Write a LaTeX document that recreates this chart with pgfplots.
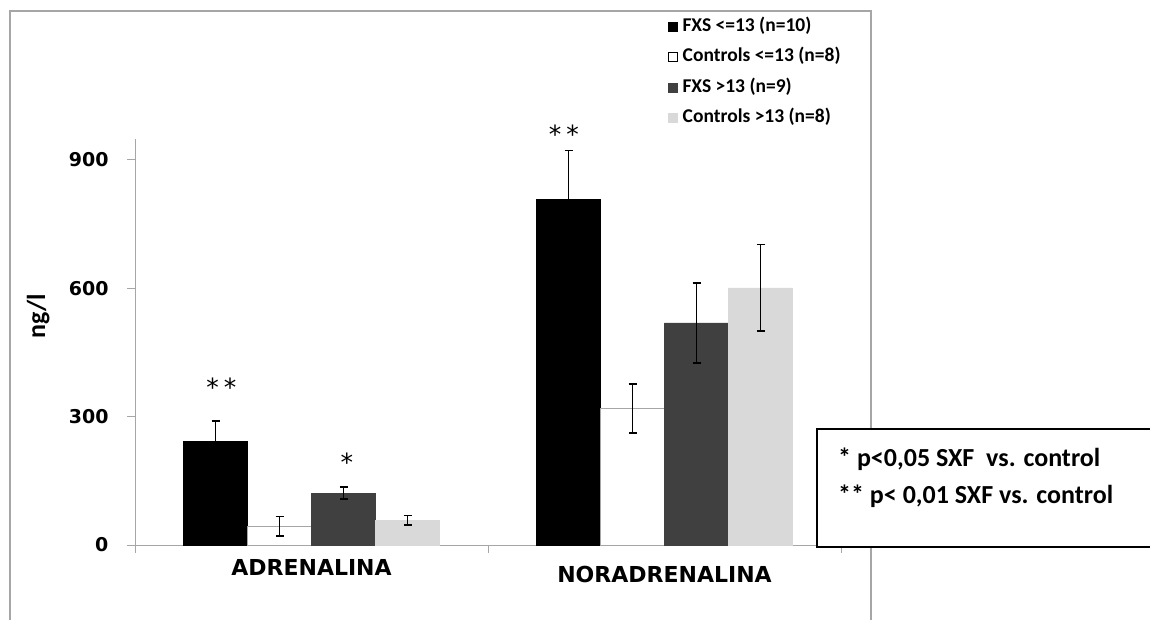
\documentclass[border=0pt]{standalone}
\usepackage{pgfplots}
\pgfplotsset{compat=1.18}
\usepackage{fontspec}
\setmainfont{Carlito}
\newfontfamily\dv{DejaVu Sans}
\newfontfamily\cb{Carlito}
\definecolor{dgray}{HTML}{404040}
\definecolor{lgray}{HTML}{D9D9D9}
\definecolor{axgray}{HTML}{A6A6A6}
\pgfplotsset{myerr/.style={error bars/.cd, y dir=both, y explicit,
     error bar style={line width=1.6pt, black},
     error mark options={rotate=90, mark size=4pt, line width=1.6pt, black}, /pgfplots/.cd}}
\begin{document}
\begin{tikzpicture}
\useasboundingbox (0pt,0pt) rectangle (1150pt,619pt);
% outer chart frame
\draw[axgray, line width=1.2pt] (10pt,-5pt) -- (10pt,608pt) -- (871pt,608pt) -- (871pt,-5pt);
\begin{axis}[
  at={(135pt,74pt)}, anchor=south west,
  width=706pt, height=406.4pt, scale only axis,
  xmin=0, xmax=2, ymin=0, ymax=950,
  clip=false,
  axis lines*=left,
  axis line style={axgray, line width=1pt},
  tick align=outside,
  major tick length=8pt,
  tick style={axgray, line width=1pt},
  ytick={0,300,600,900},
  /pgf/number format/assume math mode=true,
  yticklabel style={font=\dv\bfseries\fontsize{19}{20}\selectfont, black, xshift=-15pt},
  xtick={0,1,2}, xticklabels={},
  extra x ticks={0.5,1.5},
  extra x tick labels={ADRENALINA, \raisebox{-7pt}[\height][0pt]{NORADRENALINA}},
  extra x tick style={major tick length=0pt, tick style={draw=none},
     xticklabel style={font=\dv\bfseries\fontsize{22}{24}\selectfont, black, yshift=-11pt}},
  ylabel={ng/l},
  ylabel style={at={(axis description cs:-0.137,0.5635)}, anchor=center,
     font=\cb\bfseries\fontsize{26}{28}\selectfont},
  ybar=0pt, bar width=0.1813,
  legend style={at={(axis description cs:0.755,1.297)}, anchor=north west,
     draw=none, fill=none, inner sep=0pt, row sep=13.5pt,
     font=\cb\bfseries\fontsize{19.5}{21}\selectfont,
     nodes={inner sep=0pt, text height=13pt, text depth=4pt}},
  legend cell align=left,
  legend image code/.code={\draw[#1, line width=0.6pt] (0pt,-4.5pt) rectangle (9pt,4.5pt); \path (14pt,0pt);},
]
\addplot[fill=black, draw=black, myerr] coordinates {(0.5,242) +- (0,48) (1.5,808) +- (0,114)};
\addplot[fill=white, draw=gray!70, legend image post style={draw=black}, myerr] coordinates {(0.5,44) +- (0,23) (1.5,319) +- (0,57)};
\addplot[fill=dgray, draw=dgray, myerr] coordinates {(0.5,121) +- (0,14) (1.5,519) +- (0,93)};
\addplot[fill=lgray, draw=lgray, myerr] coordinates {(0.5,58) +- (0,11) (1.5,601) +- (0,101)};
\legend{FXS <=13 (n=10), Controls <=13 (n=8), FXS >13 (n=9), Controls >13 (n=8)}
\node[anchor=base, font=\dv\fontsize{25}{26}\selectfont] at (axis cs:0.245,348) {*\hspace{5pt}*};
\node[anchor=base, font=\dv\fontsize{25}{26}\selectfont] at (axis cs:0.600,172) {*};
\node[anchor=base, font=\dv\fontsize{25}{26}\selectfont] at (axis cs:1.215,939) {*\hspace{5pt}*};
\end{axis}
% significance box
\filldraw[fill=white, draw=none] (817pt,72pt) rectangle (1160pt,190pt);
\draw[black, line width=2pt] (1160pt,190pt) -- (817pt,190pt) -- (817pt,72pt) -- (1160pt,72pt);
\node[anchor=west, inner sep=0pt, font=\cb\bfseries\fontsize{26}{30}\selectfont] at (838pt,160pt) {* p<0,05 SXF\ \ vs. control};
\node[anchor=west, inner sep=0pt, font=\cb\bfseries\fontsize{26}{30}\selectfont] at (838pt,123pt) {** p< 0,01 SXF vs. control};
\end{tikzpicture}
\end{document}
